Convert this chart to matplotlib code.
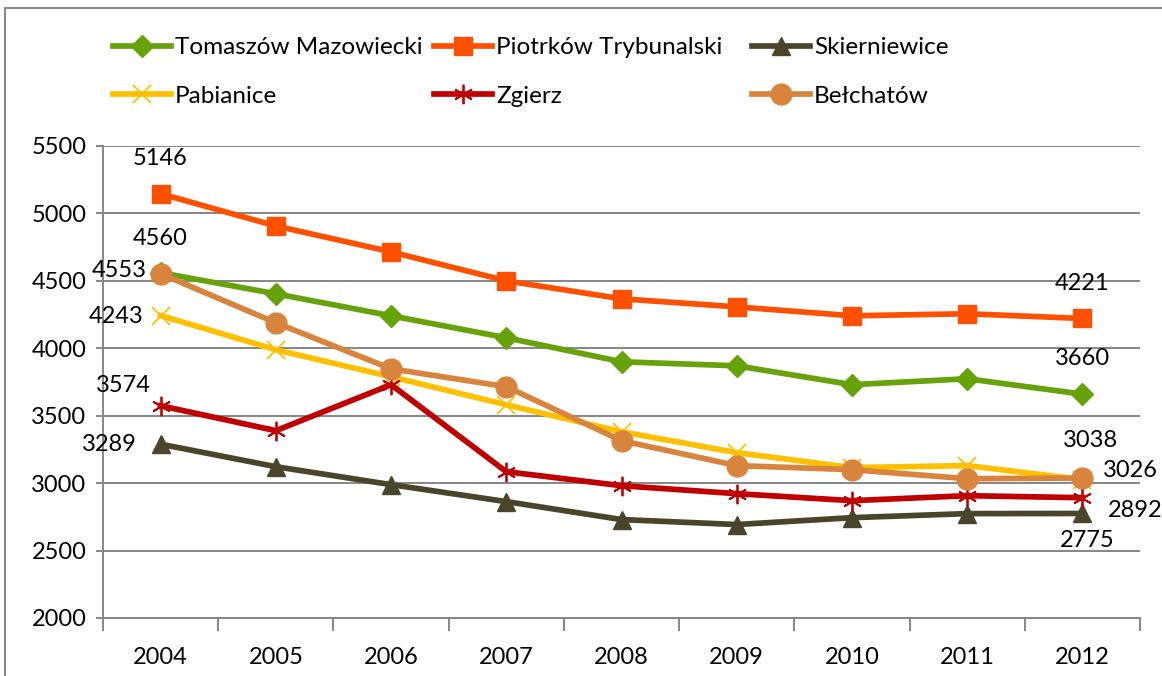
import matplotlib
matplotlib.use("Agg")
import matplotlib.pyplot as plt
from matplotlib.patches import Rectangle

plt.rcParams['font.family'] = ['Lato', 'DejaVu Sans']

years = ['2004', '2005', '2006', '2007', '2008', '2009', '2010', '2011', '2012']

tomaszow = [4560, 4404, 4241, 4078, 3900, 3870, 3730, 3774, 3660]
piotrkow = [5146, 4907, 4715, 4500, 4367, 4307, 4241, 4256, 4221]
skierniewice = [3289, 3122, 2989, 2863, 2730, 2693, 2744, 2774, 2775]
pabianice = [4243, 3989, 3789, 3581, 3381, 3226, 3115, 3130, 3026]
zgierz = [3574, 3389, 3730, 3085, 2981, 2922, 2870, 2907, 2892]
belchatow = [4553, 4189, 3848, 3715, 3315, 3130, 3100, 3033, 3038]

W, H = 1162, 676
fig = plt.figure(figsize=(W / 100, H / 100), dpi=100)
ax = fig.add_axes([103 / W, 1 - 618 / H, (1140 - 103) / W, (618 - 146) / H])

x = list(range(len(years)))
pt = 0.72  # points per pixel
fs = 17

series = [
    # name, values, color, marker, size, markeredgewidth
    ('Tomaszów Mazowiecki', tomaszow, '#66A30A', 'D', 11, 1),
    ('Piotrków Trybunalski', piotrkow, '#FF5000', 's', 13, 1),
    ('Skierniewice', skierniewice, '#4A452A', '^', 13, 1),
    ('Pabianice', pabianice, '#FFC000', 'x', 13, 1.3),
    ('Zgierz', zgierz, '#C00000', (6, 2, 0), 14, 1.3),
    ('Bełchatów', belchatow, '#D9843D', 'o', 15, 1),
]

# draw in an order so the overlaps look like the original
draw_order = [2, 4, 3, 0, 5, 1]
handles = {}
for i in draw_order:
    name, vals, col, mk, ms, mew = series[i]
    ln, = ax.plot(x, vals, color=col, lw=4.1, marker=mk, markersize=ms,
                  markerfacecolor=col, markeredgecolor=col, markeredgewidth=mew,
                  solid_joinstyle='round', zorder=3 + i * 0.1)
    handles[name] = ln

ax.set_xlim(-0.5, len(years) - 0.5)
ax.set_ylim(2000, 5500)
ax.set_yticks(range(2000, 5501, 500))
ax.set_xticks(x)
ax.set_xticklabels(years)
ax.set_xticks([v + 0.5 for v in range(-1, len(years))], minor=True)

grid_col = '#868686'
ax.grid(axis='y', color=grid_col, lw=1.4, zorder=0)
for s in ['top', 'right']:
    ax.spines[s].set_visible(False)
for s in ['left', 'bottom']:
    ax.spines[s].set_color(grid_col)
    ax.spines[s].set_linewidth(1.4)
ax.tick_params(axis='y', length=5, color=grid_col, width=1.4, labelsize=fs, pad=7)
ax.tick_params(axis='x', which='major', length=0, labelsize=fs, pad=21)
ax.tick_params(axis='x', which='minor', length=9, color=grid_col, width=1.4)

# data labels on first and last points, offsets in pixels
labels = [
    (piotrkow, 0, 0, 35, 'center'),
    (tomaszow, 0, 0, 34, 'center'),
    (belchatow, 0, -14, 3, 'right'),
    (pabianice, 0, -17, -1, 'right'),
    (zgierz, 0, -37, 20, 'center'),
    (skierniewice, 0, -24, 0, 'right'),
    (piotrkow, 8, 0, 35, 'center'),
    (tomaszow, 8, 0, 36, 'center'),
    (belchatow, 8, 8, 38, 'center'),
    (pabianice, 8, 21, 9, 'left'),
    (zgierz, 8, 25, -13, 'left'),
    (skierniewice, 8, 5, -27, 'center'),
]
for vals, idx, dx, dy, ha in labels:
    ax.annotate(str(vals[idx]), (idx, vals[idx]), xytext=(dx * pt, dy * pt),
                textcoords='offset points', ha=ha, va='center', fontsize=fs,
                color='black', zorder=10)

# legend, one column at a time
cols = [
    (113, ['Tomaszów Mazowiecki', 'Pabianice']),
    (434, ['Piotrków Trybunalski', 'Zgierz']),
    (752, ['Skierniewice', 'Bełchatów']),
]
for left, names in cols:
    fig.legend([handles[n] for n in names], names, loc='upper left',
               bbox_to_anchor=(left / W, 1 - 37 / H), frameon=False,
               fontsize=17.5, handlelength=2.4, handletextpad=0.15,
               borderpad=0, borderaxespad=0, labelspacing=1.15)

# outer chart border
fig.patches.append(Rectangle((5 / W, -0.1), 1.2, 1 - 8 / H + 0.1,
                             transform=fig.transFigure, fill=False,
                             edgecolor='#868686', lw=1.4))

fig.savefig('out.png', dpi=100)
